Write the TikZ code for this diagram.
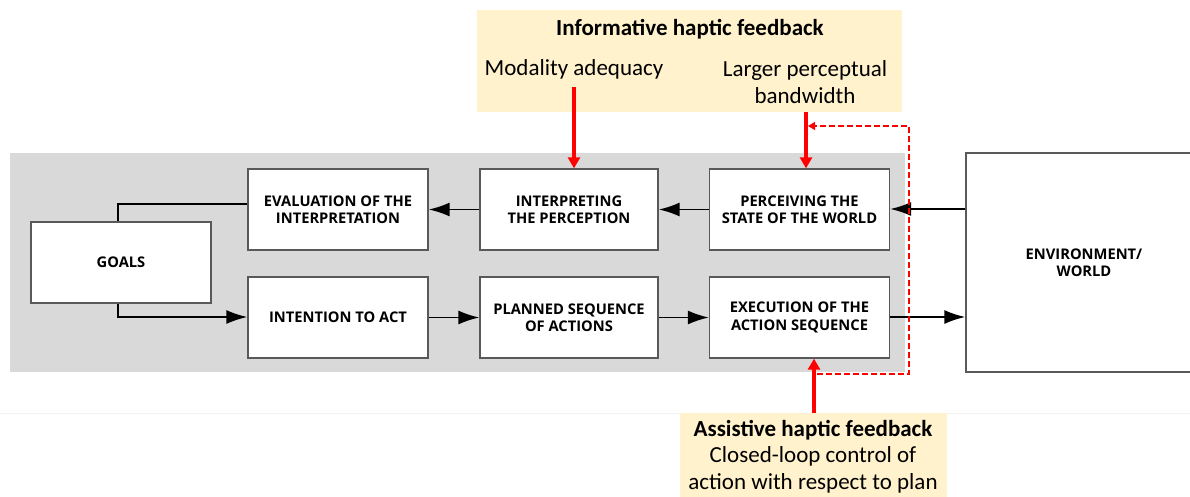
\documentclass[tikz,border=0pt]{standalone}
\usepackage{fontspec}
\setmainfont{Carlito}
\newfontfamily\boxfont{Open Sans}[BoldFont={Open Sans Bold}]
\usetikzlibrary{arrows.meta,positioning,calc}
\definecolor{beige}{HTML}{FFF2CC}
\definecolor{panel}{HTML}{D9D9D9}
\definecolor{edge}{HTML}{595959}
\definecolor{hred}{HTML}{FF0000}
\tikzset{
  stagebox/.style={draw=edge, line width=1.3pt, fill=white, minimum width=180pt, minimum height=81pt, inner sep=0pt,
    align=center, font=\boxfont\bfseries\fontsize{14.7}{17.5}\selectfont, text=black},
  flow/.style={line width=1.9pt, -{Latex[length=21pt,width=14pt]}},
  plain/.style={line width=1.9pt},
  redarrow/.style={draw=hred, line width=3.5pt, -{Triangle[length=11pt,width=12pt]}},
  reddash/.style={draw=hred, line width=1.4pt, dash pattern=on 6pt off 3pt, -{Triangle[length=7pt,width=8pt]}},
  lbl/.style={inner sep=0pt, align=center, font=\fontsize{23}{27}\selectfont},
  ttl/.style={inner sep=0pt, align=center, font=\bfseries\fontsize{23}{27}\selectfont},
}
\begin{document}
\begin{tikzpicture}[x=1pt,y=-1pt]
\useasboundingbox (0,0) rectangle (1190,497);
\fill[white] (0,0) rectangle (1190,497);
\draw[black!5, line width=0.8pt] (0,413) -- (1190,413);
% panels
\fill[panel] (10,153) rectangle (905,372);
\fill[beige] (477,10) rectangle (902,112);
\fill[beige] (680,413) rectangle (947,497);
% boxes
\node[stagebox] (goals) at (121,262.5) {GOALS};
\node[stagebox] (eval) at (338,209.5) {EVALUATION OF THE\\INTERPRETATION};
\node[stagebox, minimum width=178pt] (interp) at (569,209.5) {INTERPRETING\\THE PERCEPTION};
\node[stagebox] (perc) at (799.5,209.5) {PERCEIVING THE\\STATE OF THE WORLD};
\node[stagebox] (intent) at (338,317.5) {INTENTION TO ACT};
\node[stagebox, minimum width=178pt] (plan) at (569,317.5) {PLANNED SEQUENCE\\OF ACTIONS};
\node[stagebox] (exec) at (799.5,317.5) {EXECUTION OF THE\\ACTION SEQUENCE};
\node[stagebox, minimum width=236pt, minimum height=219pt] (env) at (1084,262.5) {ENVIRONMENT/\\WORLD};
% connectors
\draw[plain] (goals.north -| 118,0) |- (eval.west |- 0,204);
\draw[flow] (goals.south -| 118,0) |- (intent.west |- 0,317);
\draw[flow] (interp.west) -- (eval.east);
\draw[flow] (perc.west) -- (interp.east);
\draw[flow] (env.west |- 0,209) -- (perc.east |- 0,209);
\draw[flow] (intent.east) -- (plan.west);
\draw[flow] (plan.east) -- (exec.west);
\draw[flow] (exec.east |- 0,317) -- (env.west |- 0,317);
% labels
\node[ttl] (info) at (690,29) {Informative haptic feedback};
\node[lbl] (modal) at (574,69) {Modality adequacy};
\node[lbl] (band) at (805,82) {Larger perceptual\\bandwidth};
\node[ttl] (assist) at (813,430) {Assistive haptic feedback};
\node[lbl] (closed) at (813,470) {Closed-loop control of\\action with respect to plan};
% red arrows
\coordinate (m0) at (574,87);
\coordinate (b0) at (806,112);
\coordinate (a0) at (814,413);
\draw[redarrow] (m0) -- (m0 |- interp.north);
\draw[redarrow] (b0) -- (b0 |- perc.north);
\draw[redarrow] (a0) -- (a0 |- exec.south);
\coordinate (dA) at (817,374);
\coordinate (dB) at (909,374);
\coordinate (dC) at (909,126);
\coordinate (dD) at (808,126);
\draw[reddash] (dA) -- (dB) -- (dC) -- (dD);
\end{tikzpicture}
\end{document}
